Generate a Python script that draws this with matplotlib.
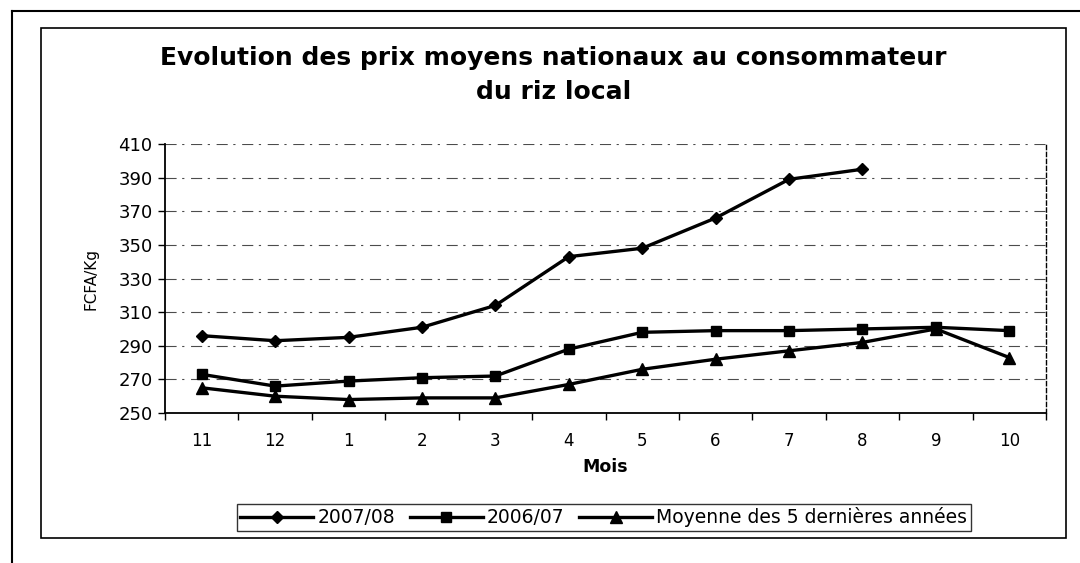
import matplotlib
matplotlib.use('Agg')
import matplotlib.pyplot as plt
from matplotlib.lines import Line2D
from matplotlib.patches import Rectangle
import numpy as np

plt.rcParams['font.family'] = ['DejaVu Sans']

# data
mois = ['11', '12', '1', '2', '3', '4', '5', '6', '7', '8', '9', '10']
prix_2007_08 = [296, 293, 295, 301, 314, 343, 348, 366, 389, 395]
prix_2006_07 = [273, 266, 269, 271, 272, 288, 298, 299, 299, 300, 301, 299]
moyenne_5ans = [265, 260, 258, 259, 259, 267, 276, 282, 287, 292, 300, 283]
y_ticks = [250, 270, 290, 310, 330, 350, 370, 390, 410]

fig = plt.figure(figsize=(10.8, 5.63), dpi=100)
ax = fig.add_axes([0.1528, 0.2664, 0.8157, 0.4778])

x = np.arange(len(mois))
ax.plot(x[:len(prix_2007_08)], prix_2007_08, color='black', lw=2.4,
        marker='D', markersize=6, label='2007/08')
ax.plot(x, prix_2006_07, color='black', lw=2.4,
        marker='s', markersize=7, label='2006/07')
ax.plot(x, moyenne_5ans, color='black', lw=2.4,
        marker='^', markersize=8, label='Moyenne des 5 dernières années')

ax.set_xlim(-0.5, len(mois) - 0.5)
ax.set_ylim(250, 410)
ax.set_yticks(y_ticks)
ax.set_yticklabels([str(v) for v in y_ticks], fontsize=13)
# category ticks between months, labels centered
ax.set_xticks(np.arange(-0.5, len(mois), 1.0))
ax.set_xticklabels([])
ax.set_xticks(x, minor=True)
ax.set_xticklabels(mois, minor=True, fontsize=12)
ax.tick_params(axis='x', which='minor', length=0, pad=14)
ax.tick_params(axis='x', which='major', length=5, width=1, direction='out')
ax.tick_params(axis='y', length=5, width=1, direction='out', pad=4)

# broken-looking gridlines as in the scan
ax.grid(axis='y', color='black', lw=0.8, linestyle=(0, (10, 5, 2, 6)), alpha=0.7)
ax.set_axisbelow(True)

ax.spines['top'].set_visible(False)
ax.spines['right'].set_linestyle((0, (3, 2)))
ax.spines['right'].set_linewidth(1)
ax.spines['left'].set_linewidth(1.3)
ax.spines['bottom'].set_linewidth(1.3)

fig.text(0.084, 0.504, 'FCFA/Kg', rotation=90, ha='center', va='center', fontsize=11)
fig.text(0.560, 0.170, 'Mois', ha='center', va='center', fontsize=12.5, fontweight='bold')

fig.text(0.5125, 0.897, 'Evolution des prix moyens nationaux au consommateur',
         ha='center', va='center', fontsize=18, fontweight='bold')
fig.text(0.5125, 0.837, 'du riz local', ha='center', va='center',
         fontsize=18, fontweight='bold')

leg = fig.legend(loc='center', bbox_to_anchor=(0.559, 0.081), ncol=3,
                 fontsize=13.5, frameon=True, fancybox=False, edgecolor='black',
                 handlelength=3.9, handletextpad=0.2, columnspacing=0.8,
                 borderpad=0.2, borderaxespad=0)
leg.get_frame().set_linewidth(1)

# chart frame and outer page frame
fig.add_artist(Rectangle((0.038, 0.0444), 0.949, 0.9059, transform=fig.transFigure,
                         fill=False, edgecolor='black', lw=1.2))
fig.add_artist(Line2D([0.0111, 0.0111], [0.0, 0.9805], transform=fig.transFigure,
                      color='black', lw=1.5))
fig.add_artist(Line2D([0.0111, 1.0], [0.9805, 0.9805], transform=fig.transFigure,
                      color='black', lw=1.5))

fig.savefig('out.png', dpi=100)
